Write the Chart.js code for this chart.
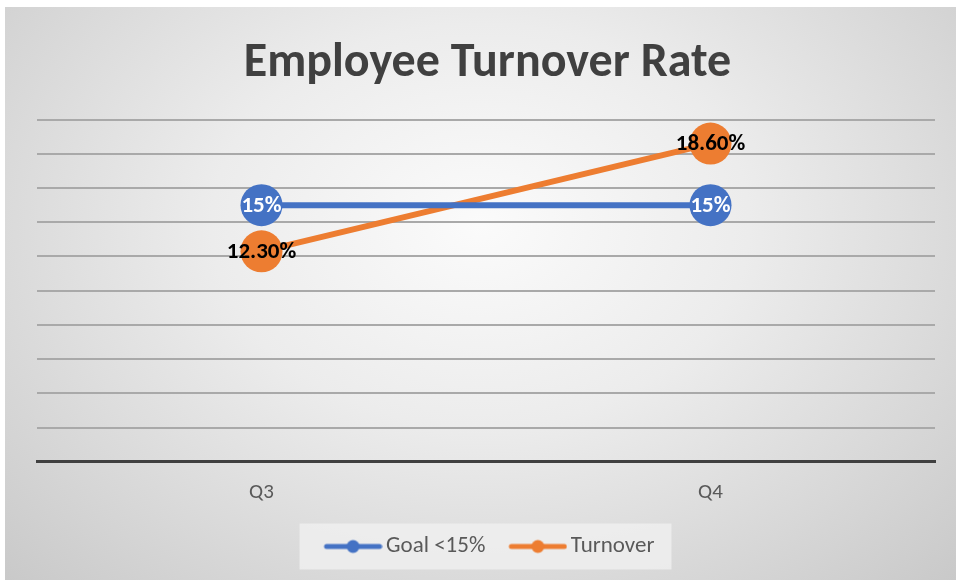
<!DOCTYPE html>
<html>
<head>
<meta charset="utf-8">
<script src="https://cdn.jsdelivr.net/npm/chart.js@4/dist/chart.umd.min.js"></script>
<style>
    body { margin: 0; background: #fff; }
    #wrap {
        position: absolute; left: 5px; top: 7px; width: 951px; height: 573px;
        background: radial-gradient(ellipse at 50% 38%, #fbfbfb 0%, #ececec 40%, #c9c9c9 100%);
    }
</style>
</head>
<body>
<div id="wrap"><canvas id="chart1"></canvas></div>
<script>
// data
let quarters = ["Q3", "Q4"];
let goalValues = [15, 15];
let turnoverValues = [12.3, 18.6];
let seriesNames = ["Goal <15%", "Turnover"];
let labelDecimals = [0, 2];

const blue = "#4472C4";
const orange = "#ED7D31";
const fontFam = "Carlito, Lato, 'Open Sans', sans-serif";

// line + dot picture for the legend; drawn off-centre in its canvas
// so the text sits close to it and the items keep their gap
function legendMark(color) {
    var c = document.createElement("canvas");
    c.width = 70; c.height = 16;
    var g = c.getContext("2d");
    g.strokeStyle = color;
    g.lineWidth = 5;
    g.lineCap = "round";
    g.beginPath(); g.moveTo(14, 8); g.lineTo(67, 8); g.stroke();
    g.fillStyle = color;
    g.beginPath(); g.arc(40.5, 8, 6.5, 0, Math.PI * 2); g.fill();
    return c;
}

// lighter box behind the legend items
const legendBox = {
    id: "legendBox",
    beforeDraw(chart) {
        var boxes = chart.legend.legendHitBoxes;
        if (!boxes || !boxes.length) return;
        var l = Math.min(...boxes.map(b => b.left));
        var r = Math.max(...boxes.map(b => b.left + b.width));
        var t = boxes[0].top;
        var h = boxes[0].height;
        var ctx = chart.ctx;
        ctx.save();
        ctx.fillStyle = "rgba(240,240,240,0.8)";
        ctx.fillRect(l - 21, t + h / 2 - 23, r - l + 38, 46);
        ctx.restore();
    }
};

// value labels centred on the points
const pointLabels = {
    id: "pointLabels",
    afterDatasetsDraw(chart) {
        var ctx = chart.ctx;
        ctx.save();
        ctx.font = "bold 23px " + fontFam;
        ctx.textAlign = "center";
        ctx.textBaseline = "middle";
        chart.data.datasets.forEach(function (ds, di) {
            var meta = chart.getDatasetMeta(di);
            meta.data.forEach(function (pt, i) {
                ctx.fillStyle = di === 0 ? "#ffffff" : "#000000";
                ctx.fillText(ds.data[i].toFixed(labelDecimals[di]) + "%", pt.x, pt.y + 1);
            });
        });
        ctx.restore();
    }
};

const myChart = new Chart(document.getElementById("chart1"), {
    type: "line",
    data: {
        labels: quarters,
        datasets: [{
            label: seriesNames[0],
            data: goalValues,
            borderColor: blue,
            backgroundColor: blue,
            borderWidth: 6,
            pointRadius: 21,
            pointHoverRadius: 21,
            pointBorderWidth: 0
        }, {
            label: seriesNames[1],
            data: turnoverValues,
            borderColor: orange,
            backgroundColor: orange,
            borderWidth: 6,
            pointRadius: 21,
            pointHoverRadius: 21,
            pointBorderWidth: 0
        }]
    },
    options: {
        responsive: true,
        maintainAspectRatio: false,
        animation: false,
        layout: { padding: { left: 32, right: 18, top: 0, bottom: 12 } },
        plugins: {
            title: {
                display: true,
                text: "Employee Turnover Rate",
                color: "#404040",
                font: { family: fontFam, size: 48, weight: "bold" },
                padding: { top: 28, bottom: 27 }
            },
            legend: {
                position: "bottom",
                labels: {
                    color: "#595959",
                    font: { family: fontFam, size: 23 },
                    usePointStyle: true,
                    pointStyleWidth: 54,
                    boxHeight: 14,
                    padding: 20,
                    generateLabels: function (chart) {
                        var items = Chart.defaults.plugins.legend.labels.generateLabels(chart);
                        items.forEach(function (it, i) {
                            it.pointStyle = legendMark(i === 0 ? blue : orange);
                        });
                        return items;
                    }
                }
            },
            tooltip: { enabled: false }
        },
        scales: {
            x: {
                offset: true,
                grid: { display: false },
                border: { display: true, color: "#404040", width: 3 },
                ticks: { color: "#595959", font: { family: fontFam, size: 21 }, padding: 10 }
            },
            y: {
                min: 0,
                max: 20,
                ticks: { display: false, stepSize: 2 },
                border: { display: false },
                grid: {
                    drawTicks: false,
                    lineWidth: 2,
                    color: function (c) { return c.tick && c.tick.value === 0 ? "rgba(0,0,0,0)" : "#a9a9a9"; }
                }
            }
        }
    },
    plugins: [legendBox, pointLabels]
});
</script>
</body>
</html>
